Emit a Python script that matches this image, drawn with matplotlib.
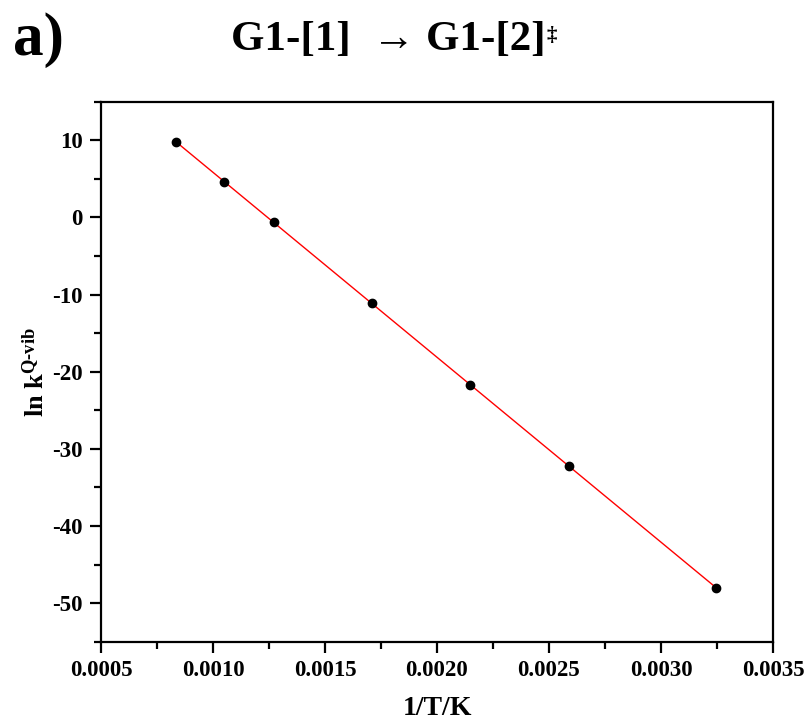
import numpy as np
import matplotlib
matplotlib.use("Agg")
import matplotlib.pyplot as plt
from matplotlib.ticker import MultipleLocator, FormatStrFormatter

# data
inv_T = [0.000833, 0.00105, 0.001272, 0.00171, 0.002149, 0.002589, 0.003247]
ln_k = [9.83, 4.6, -0.63, -11.14, -21.69, -32.23, -48.05]

plt.rcParams['font.family'] = ['Liberation Serif', 'DejaVu Serif']
plt.rcParams['font.weight'] = 'bold'
plt.rcParams['axes.unicode_minus'] = False
plt.rcParams['mathtext.fontset'] = 'custom'
plt.rcParams['mathtext.rm'] = 'Liberation Serif:bold'
plt.rcParams['mathtext.bf'] = 'Liberation Serif:bold'
plt.rcParams['mathtext.it'] = 'Liberation Serif:bold'
plt.rcParams['mathtext.default'] = 'rm'

fig = plt.figure(figsize=(8.09, 7.26), dpi=100)
ax = fig.add_axes([0.1248, 0.1161, 0.8307, 0.7438])

# linear fit through the points
slope, icept = np.polyfit(inv_T, ln_k, 1)
xf = np.array([min(inv_T), max(inv_T)])
ax.plot(xf, slope * xf + icept, color='red', lw=1.0, zorder=2)
ax.plot(inv_T, ln_k, 'o', color='black', ms=6, zorder=3)

ax.set_xlim(0.0005, 0.0035)
ax.set_ylim(-55, 15)
ax.xaxis.set_major_locator(MultipleLocator(0.0005))
ax.xaxis.set_minor_locator(MultipleLocator(0.00025))
ax.xaxis.set_major_formatter(FormatStrFormatter('%.4f'))
ax.yaxis.set_major_locator(MultipleLocator(10))
ax.yaxis.set_minor_locator(MultipleLocator(5))

for s in ax.spines.values():
    s.set_linewidth(1.6)
ax.tick_params(which='major', direction='out', length=8, width=1.6, labelsize=16.5, pad=5)
ax.tick_params(which='minor', direction='out', length=5, width=1.6)
for lab in ax.get_xticklabels() + ax.get_yticklabels():
    lab.set_fontweight('bold')

ax.set_xlabel('1/T/K', fontsize=20, fontweight='bold', labelpad=11)
ax.set_ylabel(r'ln k$^{\text{Q-vib}}$', fontsize=19, fontweight='bold', labelpad=3)

fig.text(0.016, 0.945, 'a)', fontsize=44, fontweight='bold', va='center', ha='left')
t = fig.text(0.285, 0.945, 'G1-[1]  \u2192 G1-[2]', fontsize=31,
             fontweight='bold', va='center', ha='left')
fig.canvas.draw()
ax.annotate('\u2021', xy=(1, 1), xycoords=t, xytext=(1, -4), textcoords='offset points',
            fontsize=15, fontweight='bold', ha='left', va='top', annotation_clip=False)

fig.savefig('out.png', dpi=100)
